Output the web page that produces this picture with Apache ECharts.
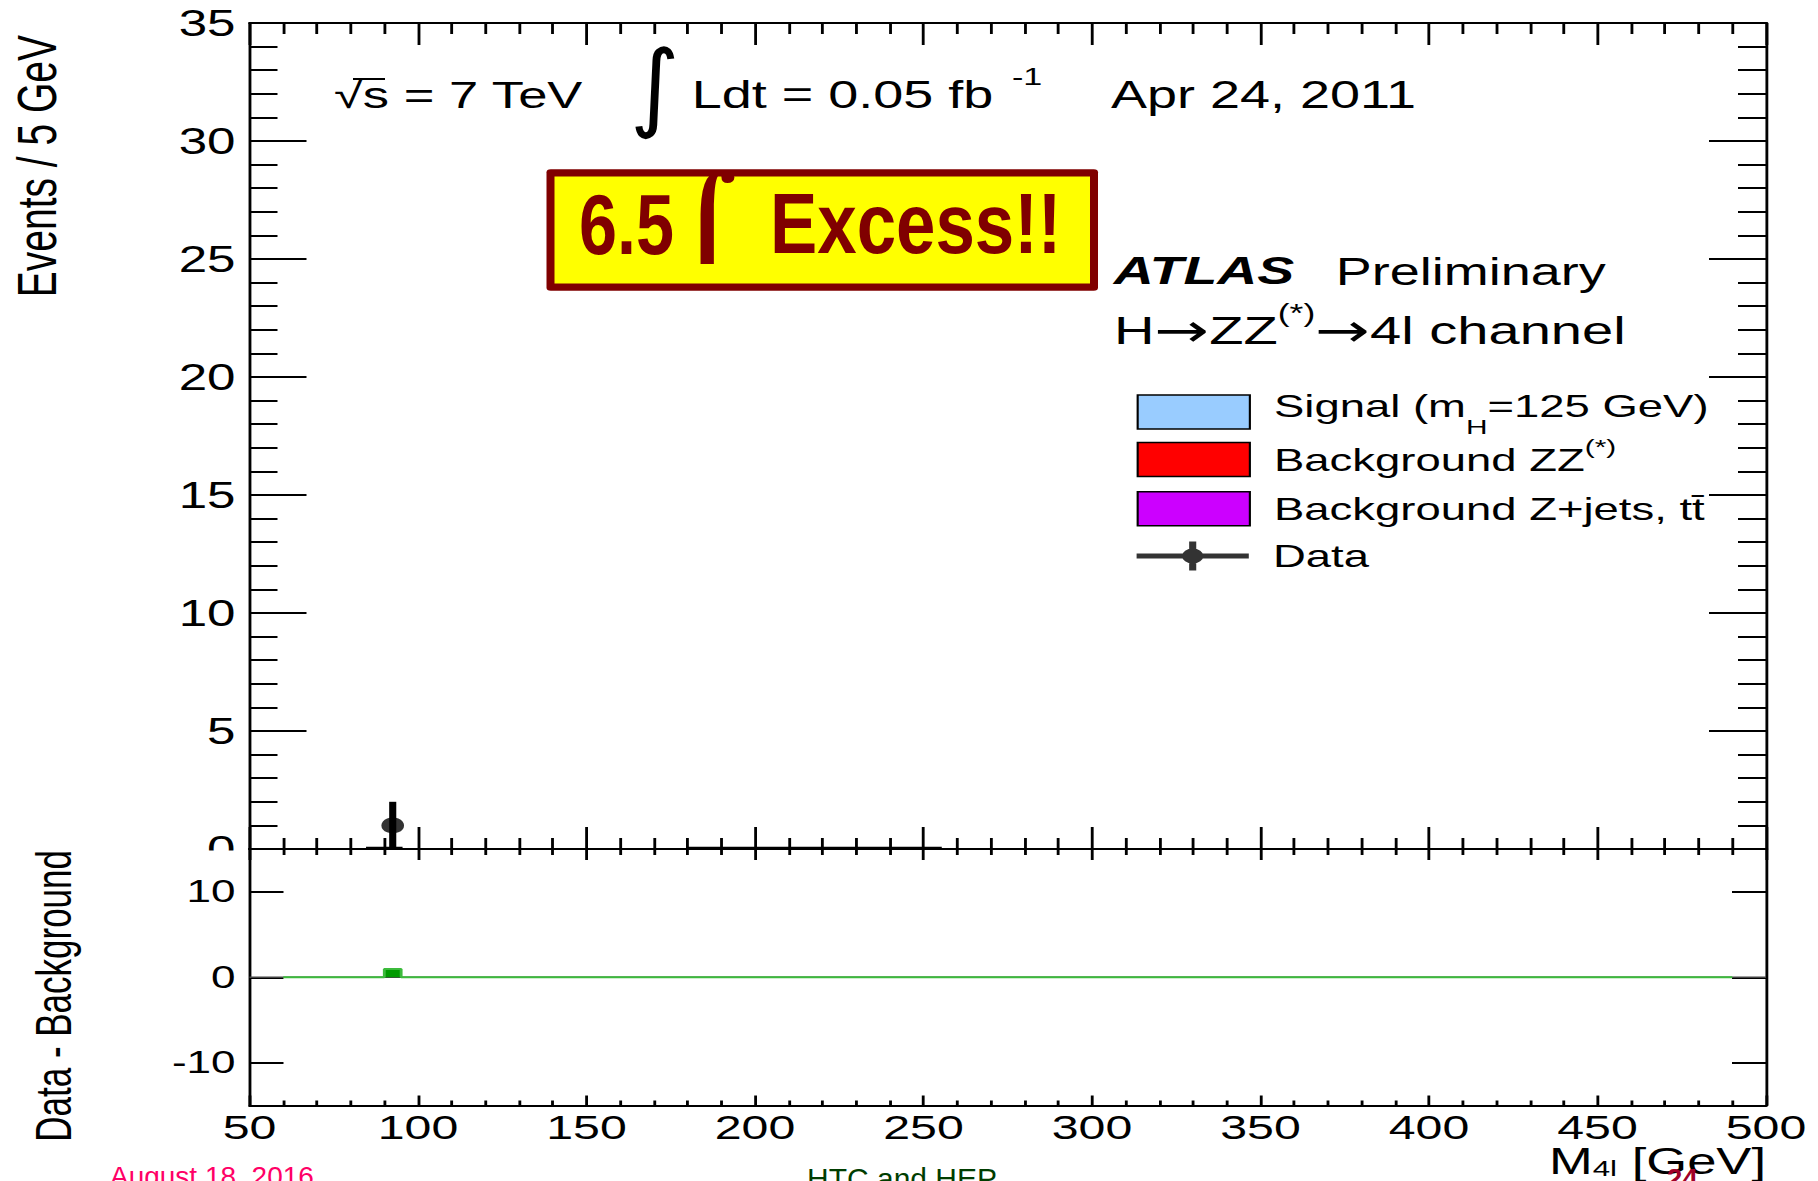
<!DOCTYPE html>
<html>
<head>
<meta charset="utf-8">
<script src="https://cdn.jsdelivr.net/npm/echarts@6/dist/echarts.min.js"></script>
<style>
  html, body { margin: 0; padding: 0; background: #fff; width: 1818px; height: 1181px; overflow: hidden; }
  #chart { width: 1280px; height: 1181px; transform-origin: 0 0; }
</style>
</head>
<body>
<div id="chart"></div>
<script>
// ---- Data: H -> ZZ(*) -> 4l, 4-lepton invariant mass (5 GeV bins) ----
const massRange = [50, 500];
const massStep = 50;
const eventsRange = [0, 35];
const eventsStep = 5;
const residualRange = [-15, 15];
const residualTicks = [-10, 0, 10];

// Observed events
const dataMass = [92.5];
const dataCount = [1];
const dataError = [1];

// Background ZZ(*) (merged runs of equal-content bins: low edge, high edge, events per bin)
const zzLow = [85, 180];
const zzHigh = [95, 255];
const zzCount = [0.05, 0.05];

// Background Z+jets, tt-bar and signal: no visible content in this range
const zjetsLow = [];
const zjetsHigh = [];
const zjetsCount = [];
const signalLow = [];
const signalHigh = [];
const signalCount = [];

// Data - background residual (bin edges, content of each bin between edges)
const residualEdges = [60, 90, 95, 490];
const residualValue = [0, 0.97, 0];

// ---- Layout ----
// The chart is laid out 1280px wide and stretched horizontally to fill the 1818px page,
// so horizontal page positions are converted to chart units with ux().
const PAGE_W = 1818, CHART_W = 1280;
const SX = PAGE_W / CHART_W;
const ux = v => v / SX;
const FONT = '"Liberation Sans", Arial, Helvetica, sans-serif';
const SYMFONT = '"DejaVu Sans", sans-serif';

const NAME_SIG = 'Signal (mH=125 GeV)';
const NAME_ZZ = 'Background ZZ(*)';
const NAME_ZJ = 'Background Z+jets, t\u0074\u0304';
const NAME_DATA = 'Data';
const legendLabels = {};
legendLabels[NAME_SIG] = 'Signal (m{sub|H}=125 GeV)';
legendLabels[NAME_ZZ] = 'Background ZZ{sup|(*)}';
legendLabels[NAME_ZJ] = 'Background Z+jets, t\u0074\u0304';
legendLabels[NAME_DATA] = 'Data';

const dom = document.getElementById('chart');
dom.style.transform = 'scaleX(' + SX + ')';
const chart = echarts.init(dom, null, { renderer: 'svg', width: CHART_W, height: 1181 });

const gridLeft = ux(249.5);
const gridRight = CHART_W - ux(1766);

function xAxisDef(gridIndex, position, major, minor, showLabel) {
  return {
    type: 'value', gridIndex, position,
    min: massRange[0], max: massRange[1], interval: massStep,
    axisLine: { show: true, onZero: false, lineStyle: { color: '#000', width: 2 } },
    axisTick: { show: true, inside: true, length: major, lineStyle: { color: '#000', width: 2 } },
    minorTick: { show: true, splitNumber: 5, length: minor, lineStyle: { color: '#000', width: 2 } },
    splitLine: { show: false },
    axisLabel: { show: showLabel, color: '#000', fontFamily: FONT, fontSize: 34, margin: 5 }
  };
}

const xAxes = [
  xAxisDef(0, 'bottom', 22, 11, false),
  xAxisDef(0, 'top', 22, 11, false),
  xAxisDef(1, 'top', 11, 6, false),
  xAxisDef(1, 'bottom', 10, 5, true)
];

function yUpper(position, showLabel) {
  return {
    type: 'value', gridIndex: 0, position,
    min: eventsRange[0], max: eventsRange[1], interval: eventsStep,
    axisLine: { show: true, onZero: false, lineStyle: { color: '#000', width: 2 } },
    axisTick: { show: true, inside: true, length: ux(57), lineStyle: { color: '#000', width: 2 } },
    minorTick: { show: true, splitNumber: 5, length: ux(28), lineStyle: { color: '#000', width: 2 } },
    splitLine: { show: false },
    axisLabel: { show: showLabel, color: '#000', fontFamily: FONT, fontSize: 36, margin: ux(14) }
  };
}
function yLower(position, showLabel) {
  return {
    type: 'value', gridIndex: 1, position,
    min: residualRange[0], max: residualRange[1],
    axisLine: { show: true, onZero: false, lineStyle: { color: '#000', width: 2 } },
    axisTick: { show: true, inside: true, length: ux(34), customValues: residualTicks, lineStyle: { color: '#000', width: 2 } },
    minorTick: { show: false },
    splitLine: { show: false },
    axisLabel: { show: showLabel, customValues: residualTicks, color: '#000', fontFamily: FONT, fontSize: 31, margin: ux(14) }
  };
}
const yAxes = [yUpper('left', true), yUpper('right', false), yLower('left', true), yLower('right', false)];

function histRows(lo, hi, val) { return lo.map((l, i) => [l, hi[i], val[i]]); }
function histRender(fill) {
  return function (params, api) {
    const p0 = api.coord([api.value(0), api.value(2)]);
    const p1 = api.coord([api.value(1), 0]);
    return {
      type: 'rect',
      shape: { x: p0[0], y: p0[1], width: p1[0] - p0[0], height: p1[1] - p0[1] },
      style: { fill: fill, stroke: '#000', lineWidth: 2 }
    };
  };
}

const residualPoints = residualEdges.map((e, i) => [e, i < residualValue.length ? residualValue[i] : residualValue[residualValue.length - 1]]);

const series = [
  { name: NAME_SIG, type: 'custom', xAxisIndex: 0, yAxisIndex: 0, encode: { x: [0, 1], y: 2 },
    itemStyle: { color: '#99ccff' }, data: histRows(signalLow, signalHigh, signalCount), renderItem: histRender('#99ccff') },
  { name: NAME_ZZ, type: 'custom', xAxisIndex: 0, yAxisIndex: 0, encode: { x: [0, 1], y: 2 },
    itemStyle: { color: '#ff0000' }, data: histRows(zzLow, zzHigh, zzCount), renderItem: histRender('#ff0000') },
  { name: NAME_ZJ, type: 'custom', xAxisIndex: 0, yAxisIndex: 0, encode: { x: [0, 1], y: 2 },
    itemStyle: { color: '#cc00ff' }, data: histRows(zjetsLow, zjetsHigh, zjetsCount), renderItem: histRender('#cc00ff') },
  { name: NAME_DATA, type: 'scatter', xAxisIndex: 0, yAxisIndex: 0, z: 6,
    symbol: 'circle', symbolSize: 16, itemStyle: { color: '#000' },
    data: dataMass.map((m, i) => [m, dataCount[i]]) },
  { name: NAME_DATA, type: 'custom', xAxisIndex: 0, yAxisIndex: 0, z: 5, encode: { x: 0, y: 1 },
    itemStyle: { color: '#000' },
    data: dataMass.map((m, i) => [m, dataCount[i], dataError[i]]),
    renderItem: function (params, api) {
      const x = api.value(0), y = api.value(1), e = api.value(2);
      const top = api.coord([x, y + e]);
      const bot = api.coord([x, Math.max(0, y - e)]);
      return { type: 'line', shape: { x1: top[0], y1: top[1], x2: bot[0], y2: bot[1] },
               style: { stroke: '#000', lineWidth: 5 } };
    } },
  // Zero reference line of the residual panel
  { name: 'zero', type: 'line', xAxisIndex: 3, yAxisIndex: 2, z: 1, silent: true,
    showSymbol: false, symbol: 'none', lineStyle: { color: '#444', width: 1.5 },
    data: [[massRange[0], 0], [massRange[1], 0]] },
  { name: 'Data - Background', type: 'line', xAxisIndex: 3, yAxisIndex: 2, z: 3,
    step: 'end', showSymbol: false, symbol: 'none',
    lineStyle: { color: '#3cbb3c', width: 2 },
    areaStyle: { color: '#009a00', opacity: 1 },
    data: residualPoints }
];

function txt(opt) {
  const st = Object.assign({ fill: '#000', fontFamily: FONT, align: 'left', verticalAlign: 'middle' }, opt.style);
  st.textAlign = st.align;
  st.textVerticalAlign = st.verticalAlign;
  return Object.assign({ type: 'text', silent: true }, opt, { style: st });
}

const unstretch = 1 / SX;

const graphic = [
  // Axis titles
  txt({ x: 26, y: 35, rotation: Math.PI / 2, style: { text: 'Events / 5 GeV', fontSize: 39, align: 'right' } }),
  txt({ x: 37.5, y: 850, rotation: Math.PI / 2, style: { text: 'Data - Background', fontSize: 35, align: 'right' } }),
  txt({ x: ux(1766), y: 1161, style: { text: 'M{sub|4l} [GeV]', fontSize: 37, align: 'right',
        rich: { sub: { fontFamily: FONT, fontSize: 22, padding: [16, 0, 0, 0], fill: '#000' } } } }),

  // Run conditions
  txt({ x: ux(334), y: 95.5, style: { text: '\u221As = 7 TeV', fontSize: 37 } }),
  { type: 'line', silent: true, shape: { x1: ux(353), y1: 79, x2: ux(385), y2: 79 }, style: { stroke: '#000', lineWidth: 2 } },
  txt({ x: ux(630), y: 86, scaleX: 0.7, style: { text: '\u222B', fontSize: 96, fontFamily: SYMFONT } }),
  txt({ x: ux(691.7), y: 95, style: { text: 'Ldt = 0.05 fb', fontSize: 38 } }),
  txt({ x: ux(1012), y: 76.5, style: { text: '-1', fontSize: 24 } }),
  txt({ x: ux(1111), y: 95, style: { text: 'Apr 24, 2011', fontSize: 38 } }),

  // Experiment label
  txt({ x: ux(1113.7), y: 271, style: { text: 'ATLAS', fontSize: 39, fontWeight: 'bold', fontStyle: 'italic' } }),
  txt({ x: ux(1335.8), y: 271.5, style: { text: 'Preliminary', fontSize: 38 } }),
  txt({ x: ux(1114), y: 330.3, style: { text: 'H{arr|\u2192}ZZ{sup|(*)}{arr|\u2192}4l channel', fontSize: 39.5,
        rich: {
          sup: { fontFamily: FONT, fontSize: 25, padding: [0, 0, 34, 0], fill: '#000' },
          arr: { fontFamily: SYMFONT, fontSize: 46, fill: '#000' }
        } } }),

  // Highlight box
  { type: 'rect', silent: true, shape: { x: ux(546.5), y: 169.3, width: ux(1098) - ux(546.5), height: 121.4, r: 3 },
    style: { fill: '#800000' } },
  { type: 'rect', silent: true, shape: { x: ux(554.5), y: 176.6, width: ux(1090) - ux(554.5), height: 106.8 },
    style: { fill: '#ffff00' } },
  txt({ x: ux(579), y: 224, scaleX: 0.56, style: { text: '6.5', fontSize: 86, fontWeight: 'bold', fill: '#800000' } }),
  txt({ x: ux(678), y: 216, scaleX: 0.85, style: { text: '\u2320', fontSize: 80, fontWeight: 'bold', fill: '#800000', fontFamily: SYMFONT } }),
  txt({ x: ux(770), y: 224, scaleX: 0.58, style: { text: 'Excess!!', fontSize: 86, fontWeight: 'bold', fill: '#800000' } }),

  // Cover for the part of the upper "0" label that falls into the lower panel
  { type: 'rect', silent: true, z: 10, shape: { x: ux(180), y: 850.5, width: ux(247) - ux(180), height: 23 }, style: { fill: '#fff' } },

  // Slide footer
  txt({ x: ux(110), y: 1176.7, scaleX: unstretch, style: { text: 'August 18, 2016', fontSize: 28, fill: '#ff0066' } }),
  txt({ x: ux(807), y: 1178.7, scaleX: unstretch, style: { text: 'HTC and HEP', fontSize: 30, fill: '#003d00' } }),
  txt({ x: ux(1666.7), y: 1178, scaleX: unstretch, z: 20, style: { text: '24', fontSize: 28, fontWeight: 'bold', fill: '#a00028' } })
];

// One legend block per entry so each row sits at its own height.
// lift raises the label relative to its key.
const legendRows = [
  { name: NAME_SIG, icon: 'rect', color: '#99ccff', border: 1.5, cy: 412, lh: 63, lift: 6 },
  { name: NAME_ZZ, icon: 'rect', color: '#ff0000', border: 1.5, cy: 459.5, lh: 47, lift: 0 },
  { name: NAME_ZJ, icon: 'rect', color: '#cc00ff', border: 1.5, cy: 508, lh: 34, lift: 0 },
  { name: NAME_DATA, icon: 'path://M0,14.5 H79 V19.5 H0 Z M37,2.5 H42 V31.5 H37 Z M32,17 A7.5,7.5 0 1,1 47,17 A7.5,7.5 0 1,1 32,17 Z',
    color: '#000', border: 0, cy: 556, lh: 34, lift: 0 }
];
const legends = legendRows.map(r => ({
  orient: 'vertical', left: ux(1136.6), top: r.cy - Math.max(r.lh + 2 * r.lift, 34) / 2, padding: 0,
  itemWidth: ux(1248.8) - ux(1136.6), itemHeight: 34,
  selectedMode: false,
  textStyle: {
    color: '#000', fontFamily: FONT, fontSize: 32, lineHeight: r.lh,
    padding: [0, 0, 2 * r.lift, 12],
    rich: {
      sub: { fontFamily: FONT, fontSize: 21, verticalAlign: 'bottom', color: '#000' },
      sup: { fontFamily: FONT, fontSize: 21, verticalAlign: 'top', color: '#000' }
    }
  },
  formatter: name => legendLabels[name] || name,
  data: [{ name: r.name, icon: r.icon, itemStyle: r.border
    ? { color: r.color, borderColor: '#000', borderWidth: r.border }
    : { color: r.color, borderWidth: 0 } }]
}));

const option = {
  animation: false,
  backgroundColor: '#fff',
  textStyle: { fontFamily: FONT },
  grid: [
    { left: gridLeft, right: gridRight, top: 23, height: 826, outerBoundsMode: 'none', containLabel: false },
    { left: gridLeft, right: gridRight, top: 849, height: 256.5, outerBoundsMode: 'none', containLabel: false }
  ],
  xAxis: xAxes,
  yAxis: yAxes,
  legend: legends,
  graphic: graphic,
  series: series
};

chart.setOption(option);
</script>
</body>
</html>
